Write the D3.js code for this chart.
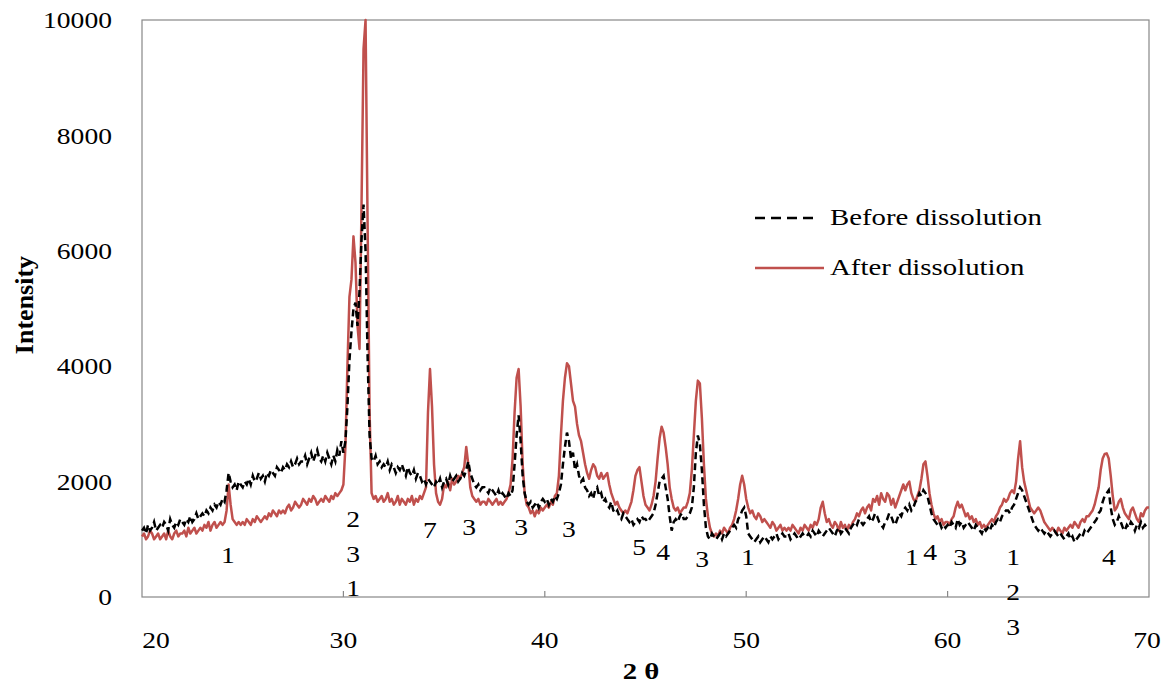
<!DOCTYPE html>
<html><head><meta charset="utf-8">
<script src="https://cdn.jsdelivr.net/npm/d3@7"></script>
<style>
body{margin:0;background:#fff;}
svg text{font-family:"Liberation Serif","Times New Roman",serif;fill:#000;}
</style></head>
<body><svg id="c" width="1169" height="692"></svg>
<script>
// 2θ sampling grid: 20.0 to 70.0 in 0.1° steps (instrument step)
const thetaStart = 20, thetaStepTenths = 1;
const before = [
1150,1200,1100,1250,1150,1200,1300,1150,1200,1250,
1200,1300,1250,1150,1350,1250,1200,1300,1250,1350,
1300,1250,1350,1300,1400,1300,1350,1450,1350,1400,
1450,1400,1500,1450,1550,1500,1600,1550,1650,1600,
1700,1650,1850,2150,2000,1900,1950,1850,2000,1950,
1900,2000,1950,2050,1950,2100,2000,2050,2150,2050,
2100,2000,2150,2100,2200,2150,2100,2250,2200,2150,
2250,2200,2300,2250,2350,2250,2300,2400,2300,2350,
2350,2450,2300,2400,2500,2350,2450,2550,2400,2350,
2450,2350,2500,2400,2300,2450,2350,2550,2450,2700,
2500,2700,3300,4100,4600,5000,5100,4700,5300,6200,
6800,6000,4200,2800,2400,2350,2450,2300,2350,2250,
2300,2250,2350,2200,2300,2250,2150,2250,2200,2300,
2200,2100,2250,2150,2100,2200,2050,2150,2100,2000,
2050,1950,2050,2000,1950,1900,2000,1950,2050,1900,
2000,2050,1950,2100,2000,2050,2100,2000,2050,2150,
2100,2200,2350,2150,2050,1950,1900,1950,1850,1900,
1900,1850,1800,1900,1850,1800,1750,1850,1750,1800,
1750,1700,1800,1750,1850,2300,2800,3150,2700,2100,
1800,1650,1600,1650,1550,1600,1650,1550,1650,1700,
1650,1700,1600,1700,1650,1750,1700,1800,1950,2300,
2600,2850,2700,2400,2500,2200,2300,2100,2000,2050,
1900,1850,1750,1800,1700,1850,1900,1750,1800,1650,
1700,1600,1550,1650,1500,1450,1500,1400,1350,1450,
1400,1350,1300,1350,1250,1300,1350,1300,1400,1350,
1350,1300,1350,1400,1450,1600,1800,2000,2050,2100,
1900,1700,1400,1150,1300,1350,1300,1400,1450,1350,
1350,1400,1450,1550,1900,2500,2800,2650,2200,1600,
1200,1050,1000,1100,1050,1000,1050,1100,1000,1100,
1050,1100,1150,1200,1250,1200,1350,1400,1500,1550,
1400,1100,1050,1000,950,1000,1050,950,1000,1050,
1000,950,1050,1000,1050,1100,1000,1050,1100,1050,
1050,1100,1000,1050,1100,1050,1000,1050,1100,1050,
1050,1100,1050,1150,1100,1050,1150,1100,1050,1100,
1150,1200,1150,1100,1050,1150,1200,1100,1150,1200,
1150,1100,1200,1250,1300,1250,1350,1300,1250,1300,
1350,1400,1300,1350,1450,1400,1300,1250,1200,1300,
1350,1450,1400,1300,1250,1350,1450,1400,1500,1550,
1500,1600,1500,1550,1650,1700,1800,1750,1850,1800,
1750,1600,1450,1350,1300,1250,1300,1200,1250,1200,
1250,1200,1300,1250,1200,1350,1250,1300,1200,1250,
1300,1250,1200,1150,1250,1200,1150,1100,1200,1150,
1200,1150,1250,1200,1300,1350,1300,1400,1450,1500,
1500,1450,1550,1600,1700,1800,1900,1850,1750,1650,
1550,1450,1350,1250,1200,1150,1200,1150,1100,1150,
1100,1050,1100,1150,1100,1050,1100,1050,1000,1050,
1100,1000,1050,950,1000,1050,1100,1050,1150,1100,
1150,1200,1250,1300,1350,1450,1500,1650,1750,1800,
1850,1550,1350,1250,1300,1400,1300,1200,1150,1250,
1200,1300,1250,1150,1250,1200,1300,1200,1250,1200,
1200];
const after = [
1050,1100,1000,1050,1150,1100,1000,1050,1100,1000,
1050,1100,1000,1150,1050,1000,1100,1150,1050,1100,
1100,1150,1050,1200,1100,1150,1200,1100,1150,1200,
1150,1250,1200,1300,1150,1250,1300,1200,1250,1300,
1250,1300,1500,1950,1600,1350,1300,1250,1300,1250,
1300,1250,1350,1300,1250,1350,1300,1400,1350,1300,
1350,1400,1350,1450,1400,1500,1450,1400,1500,1450,
1500,1450,1550,1600,1500,1550,1650,1600,1550,1600,
1700,1650,1600,1700,1650,1750,1700,1600,1650,1700,
1650,1750,1700,1650,1750,1700,1800,1750,1800,1850,
1950,2600,4000,5200,5500,6250,5800,4700,4300,6800,
9500,10000,6500,3200,1800,1700,1750,1650,1700,1750,
1650,1700,1800,1650,1700,1600,1650,1750,1600,1700,
1650,1600,1700,1650,1750,1600,1700,1650,1750,1700,
1800,1900,3200,3950,3300,2300,1800,1650,1600,1700,
1950,1900,2000,1850,2050,1950,2000,2100,2050,2150,
2250,2600,2300,1900,1750,1700,1650,1700,1600,1650,
1650,1600,1700,1650,1600,1650,1700,1600,1650,1600,
1650,1700,1800,1950,2400,3200,3800,3950,3300,2300,
1800,1600,1550,1450,1500,1400,1500,1450,1550,1500,
1550,1600,1550,1650,1600,1750,1800,2100,2800,3400,
3800,4050,4000,3700,3400,3300,3000,2800,2700,2500,
2300,2150,2050,2200,2300,2250,2100,2050,2150,2050,
2100,2150,1950,1800,1700,1600,1650,1550,1500,1450,
1500,1450,1550,1650,1850,2100,2200,2250,2000,1750,
1600,1550,1500,1600,1750,2000,2400,2750,2950,2850,
2600,2300,1900,1700,1550,1500,1550,1450,1500,1550,
1550,1650,1800,2200,2800,3400,3750,3700,3100,2300,
1700,1400,1200,1100,1050,1100,1050,1150,1100,1200,
1150,1100,1200,1250,1350,1500,1700,1950,2100,1950,
1700,1550,1450,1500,1400,1350,1450,1400,1300,1350,
1300,1250,1200,1300,1250,1150,1200,1250,1150,1200,
1150,1200,1150,1250,1200,1150,1100,1200,1150,1250,
1200,1150,1250,1200,1300,1250,1350,1550,1650,1450,
1300,1350,1250,1200,1300,1250,1150,1300,1200,1250,
1150,1250,1200,1300,1350,1450,1400,1500,1550,1450,
1550,1600,1500,1700,1650,1750,1600,1800,1700,1650,
1800,1750,1600,1700,1550,1650,1750,1850,1950,1850,
1950,2000,1800,1700,1650,1750,1850,2050,2300,2350,
2100,1800,1600,1450,1350,1400,1300,1350,1250,1300,
1300,1250,1350,1400,1550,1650,1550,1600,1500,1400,
1450,1350,1400,1300,1350,1250,1300,1200,1250,1200,
1250,1300,1350,1300,1400,1450,1550,1600,1700,1650,
1700,1800,1850,1800,2000,2400,2700,2250,2000,1850,
1700,1550,1500,1450,1500,1550,1500,1400,1300,1250,
1200,1150,1200,1150,1100,1200,1150,1100,1200,1150,
1200,1250,1200,1300,1250,1200,1300,1350,1300,1400,
1400,1450,1500,1600,1750,1900,2200,2400,2480,2490,
2400,2100,1750,1500,1550,1650,1700,1550,1450,1400,
1350,1500,1550,1450,1350,1300,1450,1400,1500,1550,
1550];
const seriesNames = ["Before dissolution", "After dissolution"];
const xTicks = [20, 30, 40, 50, 60, 70];
const yTicks = [0, 2000, 4000, 6000, 8000, 10000];
// peak phase labels: text, 2θ, intensity (label centre)
const peakLabels = ["1","2","3","1","7","3","3","3","5","4","3","1","1","4","3","1","2","3","4"];
const peakTheta  = [24.27,30.48,30.48,30.48,34.30,36.24,38.82,41.20,44.68,45.87,47.81,50.09,58.23,59.13,60.62,63.25,63.25,63.25,68.01];
const peakInt    = [728,1352,745,156,1161,1213,1213,1178,866,780,658,693,693,780,693,693,87,-520,693];

const W = 1169, H = 692;
const m = {l:142, r:1149, t:20, b:597};
const SX = 1.2; // horizontal text stretch of the original
const svg = d3.select("#c");
const x = d3.scaleLinear().domain([20,70]).range([m.l, m.r]);
const y = d3.scaleLinear().domain([0,10000]).range([m.b, m.t]);
const theta = before.map((_, i) => (thetaStart*10 + i*thetaStepTenths)/10);

function txt(g, px, py, s, size, anchor, bold, rot, sx){
  const k = sx === undefined ? SX : sx;
  const t = g.append("g").attr("transform", `translate(${px},${py})` + (rot?` rotate(${rot})`:"") + (rot? ` scale(1,${k})` : ` scale(${k},1)`));
  return t.append("text").attr("text-anchor", anchor).attr("dominant-baseline","central")
    .style("font-size", size+"px").style("font-weight", bold?"bold":"normal").text(s);
}

// frame
svg.append("rect").attr("x", m.l).attr("y", m.t).attr("width", m.r-m.l).attr("height", m.b-m.t)
  .attr("fill","none").attr("stroke","#888").attr("stroke-width",1.2);
// x ticks (inward)
svg.append("g").selectAll("line").data(xTicks.slice(1,-1)).join("line")
  .attr("x1", d=>x(d)).attr("x2", d=>x(d)).attr("y1", m.b).attr("y2", m.b-6)
  .attr("stroke","#888").attr("stroke-width",1.2);

const lab = svg.append("g");
xTicks.forEach(d => txt(lab, x(d) + (d===20?14:0) + (d===70?-2:0), 640, String(d), 23, "middle"));
yTicks.forEach(d => txt(lab, 112, y(d), String(d), 23, "end"));
txt(lab, 641, 671, "2 θ", 24, "middle", true);
txt(lab, 24, 305, "Intensity", 26, "middle", true, -90, 1.0);

const line = d3.line().x((d,i)=>x(theta[i])).y(d=>y(d));
svg.append("path").datum(after).attr("d", line).attr("fill","none")
  .attr("stroke","#c0504d").attr("stroke-width",2.5).attr("stroke-linejoin","round");
svg.append("path").datum(before).attr("d", line).attr("fill","none")
  .attr("stroke","#000").attr("stroke-width",2.5).attr("stroke-dasharray","7,4");

// peak labels
peakLabels.forEach((s,i) => txt(lab, x(peakTheta[i]), y(peakInt[i]), s, 23, "middle"));

// legend
const lg = svg.append("g");
lg.append("line").attr("x1",755).attr("x2",818).attr("y1",218).attr("y2",218)
  .attr("stroke","#000").attr("stroke-width",2.5).attr("stroke-dasharray","10,6");
lg.append("line").attr("x1",755).attr("x2",824).attr("y1",268).attr("y2",268)
  .attr("stroke","#c0504d").attr("stroke-width",2.5);
txt(lg, 830, 217, seriesNames[0], 24, "start");
txt(lg, 830, 267, seriesNames[1], 24, "start");
</script></body></html>
